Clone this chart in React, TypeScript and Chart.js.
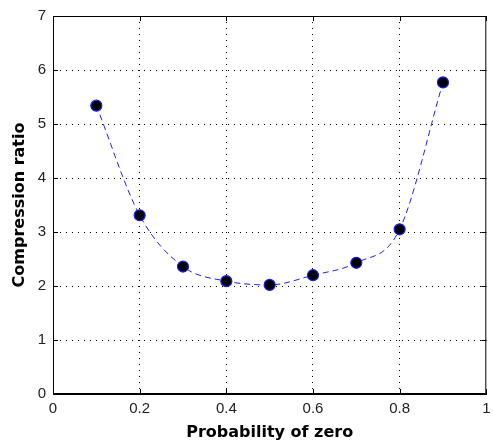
import React, { useEffect, useRef } from "react";
import { Chart, registerables } from "chart.js";

Chart.register(...registerables);

const probabilities = [0.1, 0.2, 0.3, 0.4, 0.5, 0.6, 0.7, 0.8, 0.9];
const compressionRatios = [5.34, 3.31, 2.36, 2.09, 2.02, 2.2, 2.43, 3.05, 5.77];
const xTickLabels = ["0", "0.2", "0.4", "0.6", "0.8", "1"];
const yTickLabels = ["0", "1", "2", "3", "4", "5", "6", "7"];

const boxPlugin = {
  id: "boxTicks",
  afterDatasetsDraw(chart: any) {
    const { ctx, chartArea, scales } = chart;
    const { left, right, top, bottom } = chartArea;
    ctx.save();
    ctx.strokeStyle = "#000";
    ctx.lineWidth = 1;
    ctx.setLineDash([]);
    ctx.beginPath();
    ctx.rect(left + 0.5, top + 0.5, right - left - 1, bottom - top - 1);
    ctx.stroke();
    const len = 5;
    scales.x.ticks.forEach((t: any) => {
      const x = Math.round(scales.x.getPixelForValue(t.value)) + 0.5;
      ctx.beginPath();
      ctx.moveTo(x, bottom);
      ctx.lineTo(x, bottom - len);
      ctx.moveTo(x, top);
      ctx.lineTo(x, top + len);
      ctx.stroke();
    });
    scales.y.ticks.forEach((t: any) => {
      const y = Math.round(scales.y.getPixelForValue(t.value)) + 0.5;
      ctx.beginPath();
      ctx.moveTo(left, y);
      ctx.lineTo(left + len, y);
      ctx.moveTo(right, y);
      ctx.lineTo(right - len, y);
      ctx.stroke();
    });
    ctx.restore();
  },
};

export default function App() {
  const ref = useRef<HTMLCanvasElement | null>(null);
  useEffect(() => {
    if (!ref.current) return;
    const tickFont = { family: "'Liberation Sans', Arial, sans-serif", size: 15 };
    const titleFont = { family: "'DejaVu Sans', sans-serif", size: 16, weight: "bold" };
    const chart = new Chart(ref.current, {
      type: "line",
      data: {
        datasets: [
          {
            data: probabilities.map((p, i) => ({ x: p, y: compressionRatios[i] })),
            borderColor: "#2020ff",
            borderWidth: 1,
            borderDash: [6, 4],
            tension: 0.4,
            cubicInterpolationMode: "monotone",
            pointRadius: 5.5,
            pointBackgroundColor: "#000",
            pointBorderColor: "#1a1aff",
            pointBorderWidth: 1.2,
            fill: false,
          } as any,
        ],
      },
      options: {
        animation: false,
        responsive: false,
        maintainAspectRatio: false,
        layout: { padding: { top: 16, right: 2, left: 0, bottom: 0 } },
        plugins: { legend: { display: false }, tooltip: { enabled: false } },
        scales: {
          x: {
            type: "linear",
            min: 0,
            max: 1,
            ticks: {
              stepSize: 0.2,
              color: "#222",
              font: tickFont,
              padding: 6,
              callback: (_v: any, i: number) => xTickLabels[i],
            },
            grid: {
              color: (c: any) => (c.index === 0 || c.index === xTickLabels.length - 1 ? "rgba(0,0,0,0)" : "#000"),
              lineWidth: 1,
              drawTicks: false,
            },
            border: { display: true, color: "#000", width: 1, dash: [1, 5] },
            title: {
              display: true,
              text: "Probability of zero",
              color: "#000",
              font: titleFont,
              padding: { top: 0, bottom: 1 },
            },
            afterFit: (s: any) => {
              s.height = 49;
              s.paddingLeft = 0;
              s.paddingRight = 0;
            },
          } as any,
          y: {
            type: "linear",
            min: 0,
            max: 7,
            ticks: {
              stepSize: 1,
              color: "#222",
              font: tickFont,
              padding: 7,
              callback: (_v: any, i: number) => yTickLabels[i],
            },
            grid: {
              color: (c: any) => (c.index === 0 || c.index === yTickLabels.length - 1 ? "rgba(0,0,0,0)" : "#000"),
              lineWidth: 1,
              drawTicks: false,
            },
            border: { display: true, color: "#000", width: 1, dash: [1, 5] },
            title: {
              display: true,
              text: "Compression ratio",
              color: "#000",
              font: titleFont,
              padding: { top: 10, bottom: 0 },
            },
            afterFit: (s: any) => {
              s.width = 53;
              s.paddingTop = 0;
              s.paddingBottom = 0;
            },
          } as any,
        },
      } as any,
      plugins: [boxPlugin],
    });
    return () => chart.destroy();
  }, []);
  return (
    <div style={{ position: "fixed", left: 0, top: 0, width: 493, height: 443, background: "#fff" }}>
      <canvas ref={ref} width={493} height={443} style={{ width: 493, height: 443 }} />
    </div>
  );
}
